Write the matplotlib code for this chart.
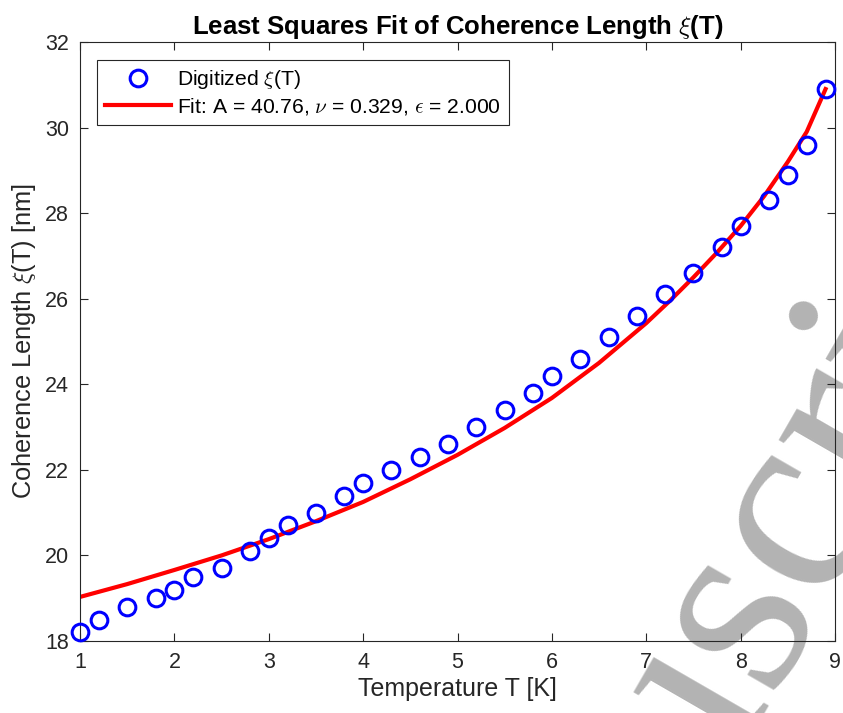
import numpy as np
import matplotlib
matplotlib.use('Agg')
import matplotlib.pyplot as plt

plt.rcParams['font.family'] = ['Liberation Sans', 'DejaVu Sans']
plt.rcParams['mathtext.fontset'] = 'cm'

# 数据点
T_data = [1.0, 1.2, 1.5, 1.8, 2.0, 2.2, 2.5, 2.8, 3.0, 3.2, 3.5, 3.8, 4.0, 4.3, 4.6, 4.9,
          5.2, 5.5, 5.8, 6.0, 6.3, 6.6, 6.9, 7.2, 7.5, 7.8, 8.0, 8.3, 8.5, 8.7, 8.9]
xi_data = [18.2, 18.5, 18.8, 19.0, 19.2, 19.5, 19.7, 20.1, 20.4, 20.7, 21.0, 21.4, 21.7, 22.0, 22.3, 22.6,
           23.0, 23.4, 23.8, 24.2, 24.6, 25.1, 25.6, 26.1, 26.6, 27.2, 27.7, 28.3, 28.9, 29.6, 30.9]

# 拟合曲线 (沿红线读取)
T_fit = [1.0, 1.5, 2.0, 2.5, 3.0, 3.5, 4.0, 4.5, 5.0, 5.5, 6.0, 6.5, 7.0, 7.25, 7.5, 7.75,
         8.0, 8.25, 8.5, 8.7, 8.9]
xi_fit = [19.03, 19.33, 19.66, 20.0, 20.38, 20.8, 21.25, 21.78, 22.35, 22.98, 23.68, 24.5, 25.43,
          25.95, 26.5, 27.08, 27.7, 28.4, 29.2, 29.9, 30.9]

x_ticks = [1, 2, 3, 4, 5, 6, 7, 8, 9]
y_ticks = [18, 20, 22, 24, 26, 28, 30, 32]

dark = '#262626'

fig = plt.figure(figsize=(8.43, 7.13), dpi=100)
ax = fig.add_axes([80 / 843, 1 - 641 / 713, 755 / 843, 599 / 713])
ax.patch.set_alpha(0)

# 水印 (放在坐标轴下面)
em = 270
theta = np.deg2rad(60)
d = np.array([np.cos(theta), -np.sin(theta)])
p = np.array([-np.sin(theta), -np.cos(theta)])
start = np.array([797, 520]) - 2.944 * em * d - 0.225 * em * p
fig.text(start[0] / 843, 1 - start[1] / 713, 'Manuscript', family='Liberation Serif',
         fontsize=em / 100 * 72, color='#b3b3b3', rotation=60, rotation_mode='anchor',
         ha='left', va='baseline', zorder=-5)

ax.plot(T_data, xi_data, 'o', mfc='none', mec='blue', ms=12, mew=2.2, clip_on=False,
        zorder=3, label=r'Digitized $\xi$(T)')
ax.plot(T_fit, xi_fit, '-', color='red', lw=3, zorder=2,
        label=r'Fit: A = 40.76, $\nu$ = 0.329, $\epsilon$ = 2.000')

ax.set_xlim(1, 9)
ax.set_ylim(18, 32)
ax.set_xticks(x_ticks)
ax.set_yticks(y_ticks)
ax.tick_params(direction='in', length=6, width=0.8, colors=dark, labelsize=15.5,
               top=True, right=True, pad=8)
for s in ax.spines.values():
    s.set_color(dark)
    s.set_linewidth(0.8)

ax.set_xlabel('Temperature T [K]', fontsize=18, color=dark, labelpad=3)
ax.set_ylabel(r'Coherence Length $\xi$(T) [nm]', fontsize=18.3, color=dark, labelpad=5)
ax.set_title(r'Least Squares Fit of Coherence Length $\xi$(T)', fontsize=18.5,
             fontweight='bold', pad=6)

leg = ax.legend(loc='upper left', bbox_to_anchor=(17 / 755, 1 - 18 / 599), fontsize=15.2,
                handlelength=3.1, handletextpad=0.3, labelspacing=0.2, borderpad=0.4,
                borderaxespad=0, fancybox=False, edgecolor=dark, framealpha=1)
leg.get_frame().set_linewidth(0.8)

fig.savefig('out.png', dpi=100)
